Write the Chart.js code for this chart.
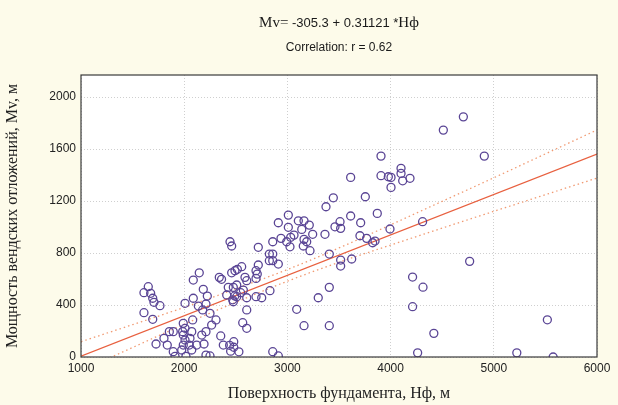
<!DOCTYPE html>
<html>
<head>
<meta charset="utf-8">
<script src="https://cdn.jsdelivr.net/npm/chart.js@4"></script>
<style>
  body { margin: 0; background: #fdfbea; }
  #wrap { width: 618px; height: 405px; }
</style>
</head>
<body>
<div id="wrap"><canvas id="chart"></canvas></div>
<script>
// data
const pointsX = [1652,1610,1675,1695,1707,1765,1610,1695,2008,2088,2146,2185,2088,2137,2211,2179,2250,2224,2308,2266,
  2211,2170,2192,2121,2073,2017,1911,1894,1976,1991,2049,2008,2056,1991,2073,2008,2082,1991,1985,1894,
  1856,1804,1836,1727,2211,2250,2354,2379,2440,2480,2362,2427,2460,2412,2476,2509,2509,3374,3009,2912,
  3106,3161,3212,3009,3139,3064,3032,3245,3364,2938,2993,3025,2858,3161,3187,3154,3219,2718,2444,2460,
  2825,2858,2825,2858,2912,3406,2718,2696,2708,2696,2557,2492,2515,2589,2606,2476,2573,2547,2490,2470,
  2606,2696,2751,2831,2606,2567,2606,3090,3299,3406,3161,3406,2480,2530,2450,2858,2912,4511,3907,3907,
  3978,4004,4101,4101,4117,4188,4004,3613,3445,3755,3613,3871,3510,3461,3516,3710,3703,3768,3826,3849,
  3994,4310,3516,3516,3623,4705,4908,4766,4213,4314,4213,4419,4262,5223,5519,5575,2340];
const pointsY = [541,495,490,452,421,395,341,290,413,592,648,521,452,392,408,362,336,469,285,246,
  195,169,100,92,54,5,5,41,54,92,92,131,144,169,195,221,285,259,195,195,
  195,144,92,100,15,8,162,92,90,118,598,536,648,477,425,554,464,1156,1092,1033,
  1048,1048,1015,998,982,938,921,944,944,913,887,848,887,905,887,854,818,844,887,854,
  792,792,741,741,715,792,708,664,638,605,695,664,675,613,587,536,515,495,470,440,
  456,464,456,510,362,264,221,367,456,536,241,241,75,40,45,41,8,1746,1546,1395,
  1387,1382,1452,1413,1356,1375,1305,1382,1225,1233,1085,1105,1041,1002,990,1033,933,913,879,892,
  985,1041,746,700,754,1848,1546,736,615,537,387,182,32,32,286,0,613];

// regression line Mv = -305.3 + 0.31121*Hф (ends) and its confidence band
const regX = [1000, 6000];
const regY = [6, 1562];
const bandX = [1000, 1500, 2000, 2500, 3000, 3500, 4000, 4500, 5000, 5500, 6000];
const bandUpper = [118, 249, 382, 525, 673, 839, 1017, 1198, 1379, 1563, 1747];
const bandLower = [-106, 73, 252, 421, 583, 729, 861, 992, 1121, 1249, 1377];

const xTicks = [1000, 2000, 3000, 4000, 5000, 6000];
const yTicks = [0, 400, 800, 1200, 1600, 2000];

const titleLine1 = [['Mv=', 'serif'], [' -305.3 + 0.31121 *', 'sans'], ['Hф', 'serif']];
const titleLine2 = 'Correlation: r = 0.62';

const zip = (xs, ys) => xs.map((x, i) => ({ x, y: ys[i] }));

const SANS = '"Liberation Sans", Arial, sans-serif';
const SERIF = '"Liberation Serif", "Times New Roman", serif';

// background, white plot area, frame and the two title lines
const decor = {
  id: 'decor',
  beforeDraw(chart) {
    const { ctx, chartArea: a } = chart;
    ctx.save();
    ctx.fillStyle = '#fdfbea';
    ctx.fillRect(0, 0, chart.width, chart.height);
    ctx.fillStyle = '#ffffff';
    ctx.fillRect(a.left, a.top, a.right - a.left, a.bottom - a.top);
    ctx.restore();
  },
  afterDraw(chart) {
    const { ctx, chartArea: a } = chart;
    ctx.save();
    ctx.strokeStyle = '#3a3a3a';
    ctx.lineWidth = 1.2;
    ctx.strokeRect(a.left, a.top, a.right - a.left, a.bottom - a.top);

    const cx = (a.left + a.right) / 2;
    ctx.fillStyle = '#1a1a1a';
    ctx.textBaseline = 'middle';
    // line 1 mixes serif and sans pieces
    const fontOf = k => k === 'serif' ? '15px ' + SERIF : '13px ' + SANS;
    let total = 0;
    titleLine1.forEach(([t, k]) => { ctx.font = fontOf(k); total += ctx.measureText(t).width; });
    let x = cx - total / 2;
    ctx.textAlign = 'left';
    titleLine1.forEach(([t, k]) => {
      ctx.font = fontOf(k);
      ctx.fillText(t, x, 23);
      x += ctx.measureText(t).width;
    });
    ctx.font = '12px ' + SANS;
    ctx.textAlign = 'center';
    ctx.fillText(titleLine2, cx, 48);
    ctx.restore();
  }
};

new Chart(document.getElementById('chart'), {
  type: 'scatter',
  data: {
    datasets: [
      {
        label: 'points',
        data: zip(pointsX, pointsY),
        pointStyle: 'circle',
        pointRadius: 4,
        pointBorderWidth: 1.3,
        pointBorderColor: '#5a4595',
        pointBackgroundColor: 'rgba(0,0,0,0)',
        order: 1
      },
      {
        label: 'fit',
        type: 'line',
        data: zip(regX, regY),
        borderColor: '#e8603f',
        borderWidth: 1.3,
        pointRadius: 0,
        order: 2
      },
      {
        label: 'upper',
        type: 'line',
        data: zip(bandX, bandUpper),
        borderColor: '#f19a72',
        borderWidth: 1.3,
        borderDash: [1.5, 3],
        cubicInterpolationMode: 'monotone',
        pointRadius: 0,
        order: 3
      },
      {
        label: 'lower',
        type: 'line',
        data: zip(bandX, bandLower),
        borderColor: '#f19a72',
        borderWidth: 1.3,
        borderDash: [1.5, 3],
        cubicInterpolationMode: 'monotone',
        pointRadius: 0,
        order: 3
      }
    ]
  },
  options: {
    responsive: true,
    maintainAspectRatio: false,
    animation: false,
    layout: { padding: { top: 75, right: 21, left: 0, bottom: 0 } },
    plugins: {
      legend: { display: false },
      tooltip: { enabled: false },
      title: { display: false }
    },
    scales: {
      x: {
        type: 'linear',
        min: 1000,
        max: 6000,
        afterFit: s => { s.height = 48; },
        afterBuildTicks: s => { s.ticks = xTicks.map(v => ({ value: v })); },
        ticks: {
          color: '#222',
          font: { family: SANS, size: 12 },
          padding: 4,
          maxRotation: 0,
          callback: v => String(v)
        },
        grid: { color: '#cfcfcf', drawTicks: false },
        border: { display: false, dash: [1, 2] },
        title: {
          display: true,
          text: 'Поверхность фундамента, Нф, м',
          color: '#222',
          font: { family: SERIF, size: 16 },
          padding: { top: 2, bottom: 2 }
        }
      },
      y: {
        min: 0,
        max: 2170,
        afterFit: s => { s.width = 81; },
        afterBuildTicks: s => { s.ticks = yTicks.map(v => ({ value: v })); },
        ticks: {
          color: '#222',
          font: { family: SANS, size: 12 },
          padding: 5,
          callback: v => String(v)
        },
        grid: { color: '#cfcfcf', drawTicks: false },
        border: { display: false, dash: [1, 2] },
        title: {
          display: true,
          text: 'Мощность вендских отложений, Мv, м',
          color: '#222',
          font: { family: SERIF, size: 16 },
          padding: { top: 3, bottom: 3 }
        }
      }
    }
  },
  plugins: [decor]
});
</script>
</body>
</html>
